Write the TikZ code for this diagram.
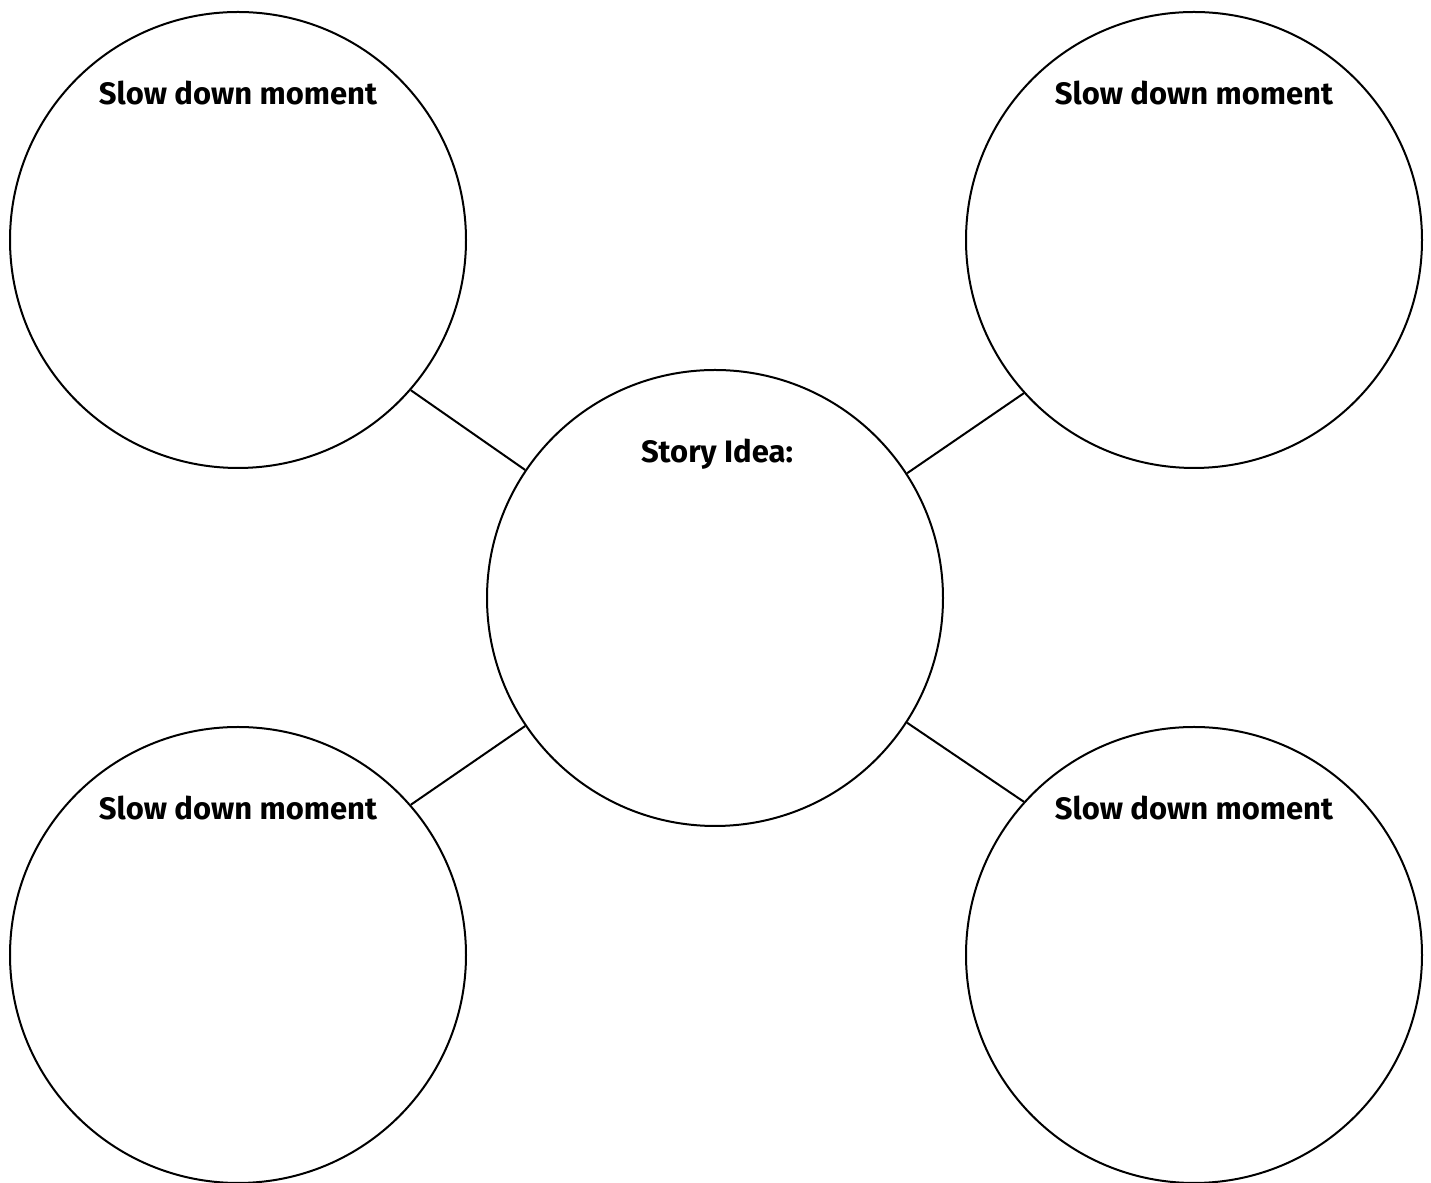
\documentclass[tikz,border=0pt]{standalone}
\usepackage{fontspec}
\setmainfont{Fira Sans}
\usepackage{tikz}

\begin{document}
\begin{tikzpicture}[x=0.5pt, y=0.5pt, line width=1pt,
        bubble/.style={circle, draw, minimum size=228pt, inner sep=0pt},
        label/.style={anchor=base, font=\fontsize{15.5}{18}\selectfont\bfseries}]
            \useasboundingbox (0,0) rectangle (1431,1183);
            % bubbles
            \node[bubble] (C) at (715, 585) {};
            \node[bubble] (TL) at (238, 943) {};
            \node[bubble] (TR) at (1194, 943) {};
            \node[bubble] (BL) at (238, 228) {};
            \node[bubble] (BR) at (1194, 228) {};
            % texts
            \node[label] (tC) at (717, 720) {Story Idea:};
            \foreach \b/\x/\y in {TL/238/1078, TR/1194/1078, BL/238/363, BR/1194/363}
                \node[label] (t\b) at (\x, \y) {Slow down moment};
            % spokes
            \draw (TL.-41.6)--(C.146.4) (TR.-138.4)--(C.33.6) (BL.41.6)--(C.-146.4) (BR.138.4)--(C.-33.6);
        \end{tikzpicture}
\end{document}
